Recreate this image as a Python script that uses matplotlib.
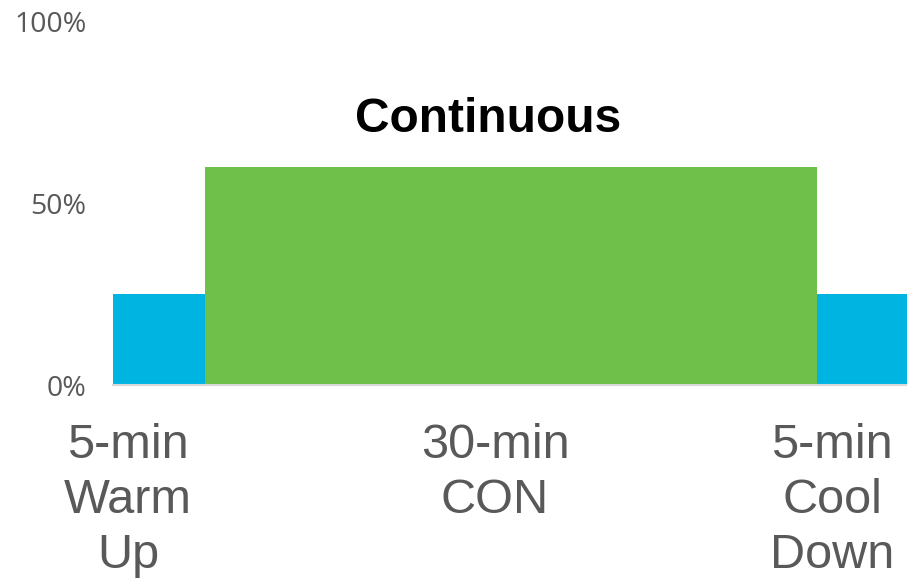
import numpy as np
import matplotlib.pyplot as plt

# phases of the session
phases = ["5-min\nWarm\nUp", "30-min\nCON", "5-min\nCool\nDown"]
starts = [0, 5, 35]          # minute each phase begins
durations = [5, 30, 5]       # minutes
intensity = [25, 60, 25]     # % of max
colors = ["#00B4E2", "#6FBF4B", "#00B4E2"]
y_ticks = [0, 50, 100]
title = "Continuous"

plt.rcParams['font.family'] = ['Liberation Sans', 'DejaVu Sans']

fig = plt.figure(figsize=(9.07, 5.81), dpi=100)
ax = fig.add_axes([113/907, 1 - 385/581, 1 - 113/907, (385 - 21)/581])

ax.bar(starts, intensity, width=durations, align='edge', color=colors, linewidth=0)

ax.set_xlim(0.5, 39.4)
ax.set_ylim(0, 100)
ax.set_yticks(y_ticks)
ax.set_yticklabels([f"{t}%" for t in y_ticks], fontsize=20.5, color="#595959",
                   family=['Open Sans', 'DejaVu Sans'])
ax.tick_params(axis='y', length=0, pad=19)
ax.set_xticks([])
for s in ['top', 'right', 'left']:
    ax.spines[s].set_visible(False)
ax.spines['bottom'].set_color("#D9D9D9")
ax.spines['bottom'].set_linewidth(1.5)

fig.text(488/907, 1 - 119/581, title, ha='center', va='center',
         fontsize=34.5, fontweight='bold', color='black')

label_x = [128, 495, 832]
for lbl, lx in zip(phases, label_x):
    fig.text(lx/907, 1 - 423/581, lbl, ha='center', va='top',
             fontsize=35, color="#595959", linespacing=1.28)

fig.savefig("out.png", dpi=100)
